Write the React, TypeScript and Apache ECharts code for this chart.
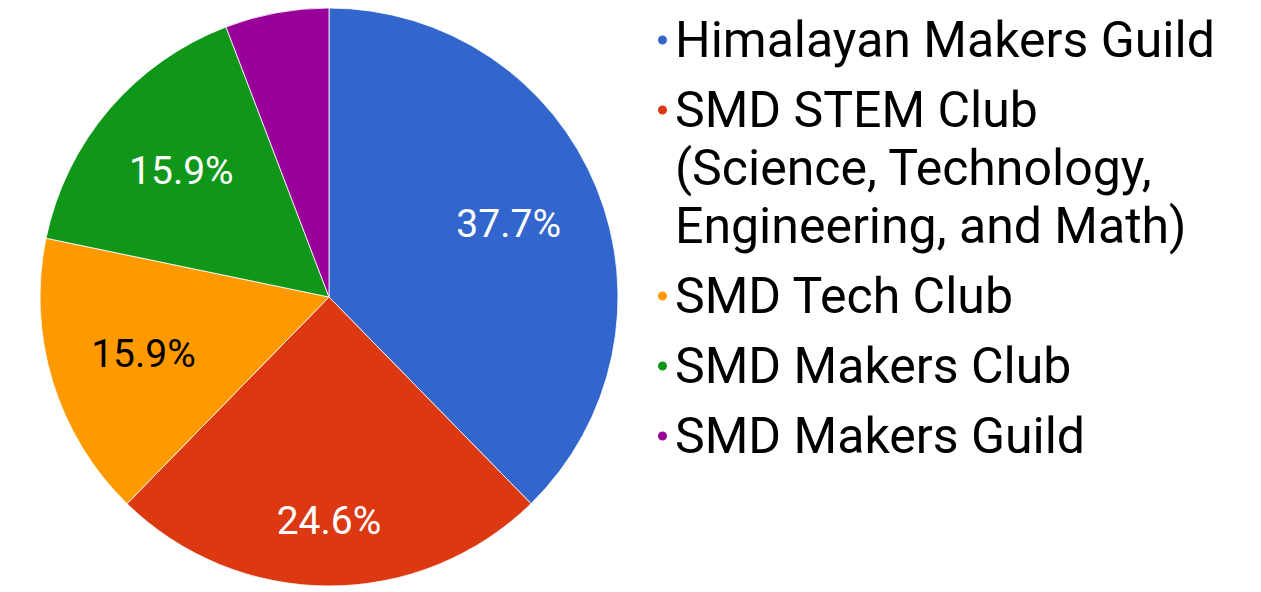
import React, { useEffect, useRef } from 'react';
import * as echarts from 'echarts';

const categories = [
  'Himalayan Makers Guild',
  'SMD STEM Club (Science, Technology, Engineering, and Math)',
  'SMD Tech Club',
  'SMD Makers Club',
  'SMD Makers Guild',
];
const values = [26, 17, 11, 11, 4];
const legendLines = [
  ['Himalayan Makers Guild'],
  ['SMD STEM Club', '(Science, Technology,', 'Engineering, and Math)'],
  ['SMD Tech Club'],
  ['SMD Makers Club'],
  ['SMD Makers Guild'],
];
const colors = ['#3366cc', '#dc3912', '#ff9900', '#109618', '#990099'];
const labelColors = ['#ffffff', '#ffffff', '#000000', '#ffffff', '#ffffff'];
const showLabel = [true, true, true, true, false];
const labelShift = [0, 30, 0, 0, 0];

const FONT = 'Roboto';
const R = 289;
const CENTER = [329, 297];

export default function App() {
  const ref = useRef<HTMLDivElement>(null);
  useEffect(() => {
    document.body.style.margin = '0';
    const chart = echarts.init(ref.current!, null, { renderer: 'svg' });
    const rich: any = {
      sp: { width: 8, lineHeight: 58 },
      ind: { width: 17, lineHeight: 58 },
      t: { fontSize: 50, fontFamily: FONT, color: '#000000', lineHeight: 58 },
    };
    colors.forEach((c, i) => {
      rich['d' + i] = { width: 9, height: 9, borderRadius: 4.5, backgroundColor: c, lineHeight: 58 };
    });
    chart.setOption({
      animation: false,
      color: colors,
      legend: {
        orient: 'vertical',
        left: 651,
        top: 11,
        padding: 0,
        itemGap: 12,
        itemWidth: 1,
        itemHeight: 1,
        itemStyle: { opacity: 0 },
        selectedMode: false,
        data: categories,
        textStyle: { fontSize: 50, fontFamily: FONT, color: '#000000', lineHeight: 58, rich },
        formatter: (name: string) => {
          const i = categories.indexOf(name);
          return legendLines[i]
            .map((line, j) => (j === 0 ? `{d${i}|}{sp|}` : `{ind|}`) + `{t|${line}}`)
            .join('\n');
        },
      },
      series: [
        {
          type: 'pie',
          center: CENTER,
          radius: [0, R],
          startAngle: 90,
          clockwise: true,
          silent: true,
          label: { show: false },
          labelLine: { show: false },
          itemStyle: { borderColor: '#ffffff', borderWidth: 0.8 },
          data: categories.map((n, i) => ({ name: n, value: values[i] })),
        },
        {
          type: 'pie',
          center: CENTER,
          radius: [93, R],
          startAngle: 90,
          clockwise: true,
          silent: true,
          itemStyle: { color: 'rgba(0,0,0,0)', borderWidth: 0 },
          labelLine: { show: false },
          label: {
            show: true,
            position: 'inside',
            fontSize: 39,
            fontFamily: FONT,
            formatter: (p: any) => p.percent.toFixed(1) + '%',
          },
          data: categories.map((n, i) => ({
            name: n,
            value: values[i],
            label: { show: showLabel[i], color: labelColors[i], offset: [0, labelShift[i]] },
          })),
        },
      ],
    });
    return () => chart.dispose();
  }, []);
  return <div ref={ref} style={{ width: 1261, height: 592 }} />;
}
